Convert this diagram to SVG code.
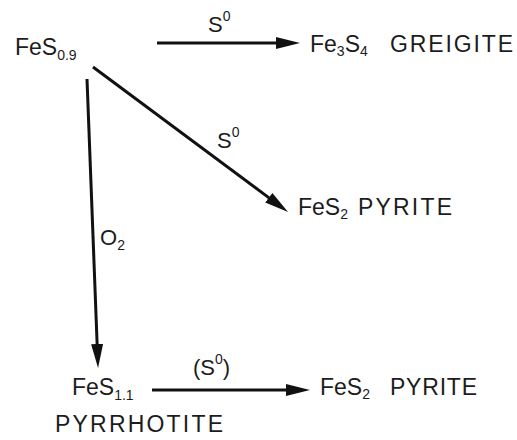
<svg xmlns="http://www.w3.org/2000/svg" width="517" height="440" viewBox="0 0 517 440">
<style>
text{font-family:"Liberation Sans",Arial,Helvetica,sans-serif;font-size:23px;fill:#1c1c1c}
.sub{font-size:14px}
.lbl{font-size:22px}
.conn line{stroke:#111;stroke-width:3;fill:none}
</style>
<defs>
<marker id="ah" markerUnits="userSpaceOnUse" markerWidth="26" markerHeight="14" refX="2" refY="7" orient="auto">
<path d="M0,1 L24,7 L0,13 z" fill="#111"/>
</marker>
</defs>
<rect width="517" height="440" fill="#fff"/>
<g id="connectors" class="conn">
<line x1="157" y1="43" x2="278" y2="43" marker-end="url(#ah)"/>
<line x1="93" y1="67" x2="270.4" y2="198.9" marker-end="url(#ah)"/>
<line x1="87" y1="79" x2="97.2" y2="346" marker-end="url(#ah)"/>
<line x1="152" y1="390" x2="288" y2="390" marker-end="url(#ah)"/>
</g>
<g id="labels">
<text class="lbl" x="208" y="32">S<tspan class="sub" dy="-11">0</tspan></text>
<text class="lbl" x="217" y="148">S<tspan class="sub" dy="-11">0</tspan></text>
<text class="lbl" x="100" y="245">O<tspan class="sub" dy="5">2</tspan></text>
<text class="lbl" x="193" y="375">(S<tspan class="sub" dy="-11">0</tspan><tspan dy="11">)</tspan></text>
</g>
<g id="fes09">
<text x="15" y="55">FeS<tspan class="sub" dy="5">0.9</tspan></text>
</g>
<g id="greigite">
<text x="310" y="52">Fe<tspan class="sub" dy="4">3</tspan><tspan dy="-4">S</tspan><tspan class="sub" dy="4">4</tspan></text>
<text x="390" y="52" textLength="123" lengthAdjust="spacing">GREIGITE</text>
</g>
<g id="pyrite1">
<text x="298" y="215">FeS<tspan class="sub" dy="4">2</tspan></text>
<text x="358" y="215" textLength="94" lengthAdjust="spacing">PYRITE</text>
</g>
<g id="pyrrhotite">
<text x="72" y="395">FeS<tspan class="sub" dy="5">1.1</tspan></text>
<text x="55" y="432" textLength="168" lengthAdjust="spacing">PYRRHOTITE</text>
</g>
<g id="pyrite2">
<text x="320" y="395">FeS<tspan class="sub" dy="4">2</tspan></text>
<text x="390" y="395" textLength="87" lengthAdjust="spacing">PYRITE</text>
</g>
</svg>
